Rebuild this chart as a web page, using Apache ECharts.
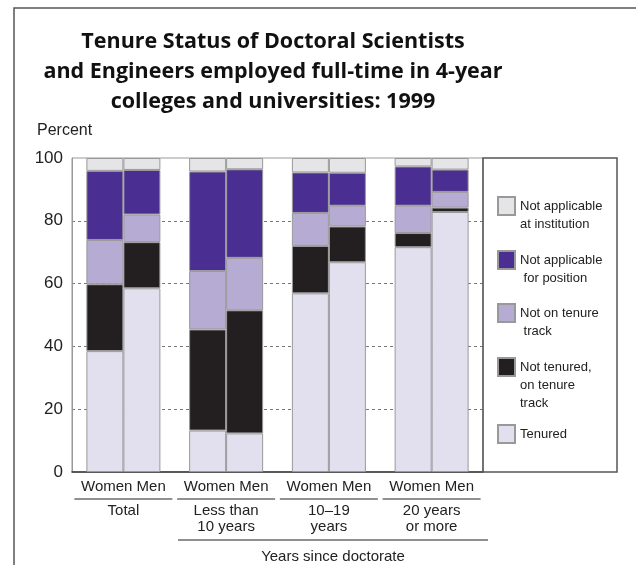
<!DOCTYPE html>
<html>
<head>
<meta charset="utf-8">
<script src="https://cdn.jsdelivr.net/npm/echarts@6/dist/echarts.min.js"></script>
<style>
  html, body { margin: 0; padding: 0; background: #fff; }
  #chart { width: 636px; height: 565px; }
</style>
</head>
<body>
<div id="chart"></div>
<script>
var groups = ['Total', 'Less than\n10 years', '10\u201319\nyears', '20 years\nor more'];
var sexes = ['Women', 'Men'];
var yTicks = [0, 20, 40, 60, 80, 100];

// percent, bottom to top of each bar
var tenuredWomen = [38.5, 13.2, 56.9, 71.6];
var tenuredMen = [58.5, 12.3, 66.8, 82.8];
var notTenuredWomen = [21.3, 32.2, 15.1, 4.5];
var notTenuredMen = [14.7, 39.2, 11.4, 1.4];
var notOnTrackWomen = [14.1, 18.6, 10.5, 8.7];
var notOnTrackMen = [8.8, 16.7, 6.6, 5.0];
var naPositionWomen = [22.0, 31.7, 12.9, 12.5];
var naPositionMen = [14.2, 28.2, 10.5, 7.1];
var naInstitutionWomen = [4.1, 4.3, 4.6, 2.7];
var naInstitutionMen = [3.8, 3.6, 4.7, 3.7];

var statuses = [
  { name: 'Tenured', women: tenuredWomen, men: tenuredMen, color: '#e2e0ef' },
  { name: 'Not tenured,\non tenure\ntrack', women: notTenuredWomen, men: notTenuredMen, color: '#231f20' },
  { name: 'Not on tenure\n track', women: notOnTrackWomen, men: notOnTrackMen, color: '#b6abd3' },
  { name: 'Not applicable\n for position', women: naPositionWomen, men: naPositionMen, color: '#4b2e91' },
  { name: 'Not applicable\nat institution', women: naInstitutionWomen, men: naInstitutionMen, color: '#e5e5e7' }
];

var myChart = echarts.init(document.getElementById('chart'), null, { renderer: 'canvas' });

var series = [];
statuses.forEach(function(s) {
  [['women', s.women], ['men', s.men]].forEach(function(p) {
    series.push({
      type: 'bar',
      name: s.name,
      stack: p[0],
      data: p[1],
      barWidth: 37,
      barGap: '0%',
      itemStyle: { color: s.color, borderColor: '#999', borderWidth: 1 }
    });
  });
});

// one legend per item so the icon sits on the first text line
var legendOrder = statuses.slice().reverse();
var legendIconTops = [197, 251, 304, 358, 424];
var legends = legendOrder.map(function(s, i) {
  var n = s.name.split('\n').length;
  var pad = new Array(n).join('\n');
  return {
    data: [s.name],
    orient: 'vertical',
    left: 497,
    top: legendIconTops[i] + 9 - 9 * (2 * n - 1),
    padding: 0,
    itemWidth: 17,
    itemHeight: 18,
    icon: 'rect',
    selectedMode: false,
    formatter: function(name) { return pad + name; },
    textStyle: { fontFamily: 'Liberation Sans', fontSize: 13, lineHeight: 18, color: '#222' }
  };
});

var option = {
  backgroundColor: '#fff',
  animation: false,
  title: [{
    text: 'Tenure Status of Doctoral Scientists\nand Engineers employed full-time in 4-year\ncolleges and universities: 1999',
    left: 273,
    top: 27,
    padding: 0,
    textAlign: 'center',
    textStyle: { fontFamily: 'Open Sans', fontWeight: 'bold', fontSize: 21.5, lineHeight: 30, color: '#111' }
  }, {
    text: 'Percent',
    left: 37,
    top: 123,
    padding: 0,
    textStyle: { fontFamily: 'Liberation Sans', fontWeight: 'normal', fontSize: 16, color: '#222' }
  }, {
    text: '{line|}\n{t|Years since doctorate}',
    left: 333,
    top: 538,
    padding: 0,
    textAlign: 'center',
    textStyle: {
      fontWeight: 'normal',
      rich: {
        line: { width: 310, height: 1, lineHeight: 4, backgroundColor: '#222' },
        t: { fontFamily: 'Liberation Sans', fontWeight: 'normal', fontSize: 15, lineHeight: 30, color: '#222' }
      }
    }
  }],
  legend: legends,
  grid: {
    left: 72, top: 158, width: 411, height: 314,
    show: true, borderColor: '#999', borderWidth: 1
  },
  xAxis: [{
    type: 'category',
    data: groups,
    position: 'bottom',
    axisLine: { lineStyle: { color: '#333', width: 1.5 } },
    axisTick: { show: false },
    axisLabel: {
      interval: 0,
      hideOverlap: false,
      margin: 6,
      fontFamily: 'Liberation Sans', fontSize: 15, lineHeight: 17, color: '#222',
      formatter: function() { return sexes.join(' '); }
    }
  }, {
    type: 'category',
    data: groups,
    position: 'bottom',
    axisLine: { show: false },
    axisTick: { show: false },
    axisLabel: {
      interval: 0,
      hideOverlap: false,
      margin: 23,
      formatter: function(v) { return '{line|}\n{t|' + v + '}'; },
      rich: {
        line: { width: 98, height: 1, lineHeight: 8, backgroundColor: '#222' },
        t: { fontFamily: 'Liberation Sans', fontSize: 15, lineHeight: 16, color: '#222' }
      }
    }
  }],
  yAxis: {
    type: 'value',
    min: yTicks[0],
    max: yTicks[yTicks.length - 1],
    interval: yTicks[1] - yTicks[0],
    axisLine: { show: true, lineStyle: { color: '#999' } },
    axisTick: { show: false },
    axisLabel: { margin: 9, fontFamily: 'Liberation Sans', fontSize: 17, color: '#222' },
    splitLine: { showMinLine: false, showMaxLine: false, lineStyle: { color: '#777', type: [3, 3], width: 1 } }
  },
  graphic: [{
    type: 'polyline',
    shape: { points: [[14, 565], [14, 8], [636, 8]] },
    style: { stroke: '#555', lineWidth: 1.5, fill: null }
  }, {
    type: 'rect',
    shape: { x: 483, y: 158, width: 134, height: 314 },
    style: { stroke: '#555', lineWidth: 1.5, fill: null },
    z: 100
  }],
  series: series
};

myChart.setOption(option);
</script>
</body>
</html>
